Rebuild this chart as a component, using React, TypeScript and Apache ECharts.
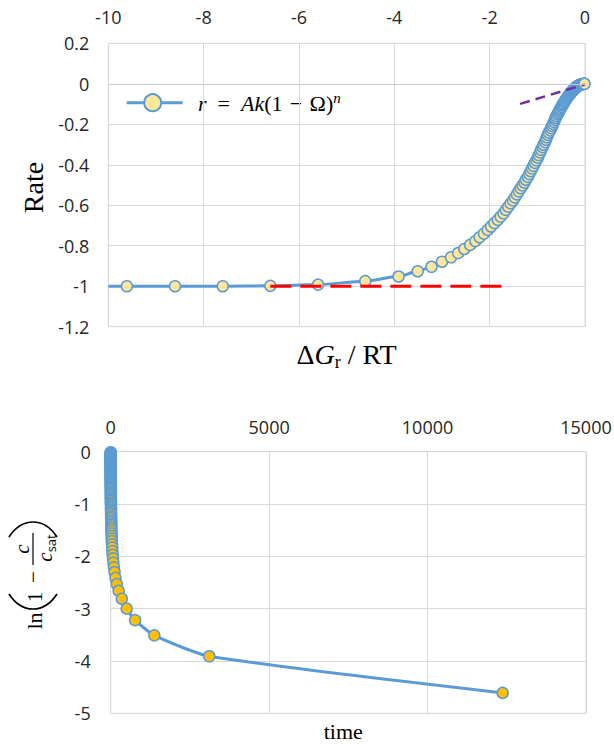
import React, { useEffect, useRef } from "react";
import * as echarts from "echarts";

// ---------- Top chart: Rate vs ΔG_r / RT ----------
const dgRT = [
  -10, -9.61, -8.6, -7.6, -6.6, -5.6,
  -4.61, -3.91, -3.51, -3.22, -3.0, -2.81, -2.66, -2.53, -2.41, -2.3,
  -2.21, -2.12, -2.04, -1.97, -1.9, -1.83, -1.77, -1.71, -1.66, -1.61,
  -1.56, -1.51, -1.47, -1.43, -1.39, -1.35, -1.31, -1.27, -1.24, -1.2,
  -1.17, -1.14, -1.11, -1.08, -1.05, -1.02, -0.99, -0.97, -0.94, -0.92,
  -0.89, -0.87, -0.84, -0.82, -0.8, -0.78, -0.76, -0.73, -0.71, -0.69,
  -0.67, -0.65, -0.63, -0.62, -0.6, -0.58, -0.56, -0.54, -0.53, -0.51,
  -0.49, -0.48, -0.46, -0.45, -0.43, -0.42, -0.4, -0.39, -0.37, -0.36,
  -0.34, -0.33, -0.31, -0.3, -0.29, -0.27, -0.26, -0.25, -0.24, -0.22,
  -0.21, -0.2, -0.19, -0.17, -0.16, -0.15, -0.14, -0.13, -0.12, -0.11,
  -0.09, -0.08, -0.07, -0.06, -0.05, -0.04, -0.03, -0.02, -0.01,
];
const rateValues = [
  -1, -1, -1, -1, -0.998, -0.992,
  -0.975, -0.952, -0.926, -0.904, -0.879, -0.857, -0.836, -0.816, -0.796, -0.777,
  -0.758, -0.74, -0.722, -0.705, -0.688, -0.672, -0.656, -0.64, -0.623, -0.607,
  -0.591, -0.576, -0.561, -0.546, -0.531, -0.516, -0.502, -0.488, -0.474, -0.46,
  -0.446, -0.432, -0.418, -0.405, -0.391, -0.378, -0.365, -0.352, -0.339, -0.326,
  -0.313, -0.301, -0.288, -0.276, -0.264, -0.252, -0.241, -0.23, -0.219, -0.208,
  -0.198, -0.188, -0.178, -0.169, -0.16, -0.151, -0.143, -0.135, -0.128, -0.121,
  -0.114, -0.107, -0.101, -0.095, -0.089, -0.084, -0.078, -0.073, -0.068, -0.063,
  -0.058, -0.054, -0.049, -0.045, -0.041, -0.038, -0.034, -0.031, -0.028, -0.025,
  -0.022, -0.019, -0.017, -0.015, -0.013, -0.011, -0.009, -0.008, -0.006, -0.005,
  -0.004, -0.003, -0.002, -0.002, -0.001, -0.001, 0, 0, 0,
];
// reference lines (dashed)
const redLineX = [-6.6, -1.7];
const redLineY = [-1, -1];
const purpleLineX = [-1.36, 0];
const purpleLineY = [-0.099, -0.003];

// ---------- Bottom chart: ln(1 - c/c_sat) vs time ----------
const timeValues = [
  0.03, 0.05, 0.08, 0.11, 0.13, 0.16, 0.19, 0.22, 0.26, 0.29,
  0.32, 0.36, 0.4, 0.44, 0.48, 0.52, 0.56, 0.6, 0.65, 0.7,
  0.75, 0.8, 0.85, 0.9, 0.96, 1.0, 1.1, 1.15, 1.2, 1.3,
  1.4, 1.4, 1.5, 1.6, 1.7, 1.8, 1.9, 2.0, 2.1, 2.2,
  2.3, 2.4, 2.6, 2.7, 2.9, 3.0, 3.2, 3.3, 3.5, 3.7,
  3.9, 4.1, 4.4, 4.6, 4.9, 5.2, 5.5, 5.8, 6.1, 6.5,
  6.9, 7.3, 7.8, 8.3, 8.9, 9.5, 10.1, 10.8, 11.6, 12.5,
  13.5, 14.5, 15.7, 17.1, 18.6, 20.2, 22.1, 24.3, 26.8, 29.7,
  33, 36.9, 41.6, 47.1, 53.7, 61.9, 72, 84.7, 101, 122,
  151, 192, 251, 350, 505, 770, 1376, 3110, 12370,
];
const lnValues = [
  -0.01, -0.02, -0.03, -0.04, -0.05, -0.06, -0.07, -0.08, -0.09, -0.11,
  -0.12, -0.13, -0.14, -0.15, -0.16, -0.17, -0.19, -0.2, -0.21, -0.22,
  -0.24, -0.25, -0.26, -0.27, -0.29, -0.3, -0.31, -0.33, -0.34, -0.36,
  -0.37, -0.39, -0.4, -0.42, -0.43, -0.45, -0.46, -0.48, -0.49, -0.51,
  -0.53, -0.54, -0.56, -0.58, -0.6, -0.62, -0.63, -0.65, -0.67, -0.69,
  -0.71, -0.73, -0.76, -0.78, -0.8, -0.82, -0.84, -0.87, -0.89, -0.92,
  -0.94, -0.97, -0.99, -1.02, -1.05, -1.08, -1.11, -1.14, -1.17, -1.2,
  -1.24, -1.27, -1.31, -1.35, -1.39, -1.43, -1.47, -1.51, -1.56, -1.61,
  -1.66, -1.71, -1.77, -1.83, -1.9, -1.97, -2.04, -2.12, -2.21, -2.3,
  -2.41, -2.53, -2.66, -2.81, -3.0, -3.22, -3.51, -3.91, -4.61,
];

// axis ranges
const topX = { min: -10, max: 0, interval: 2 };
const topY = { min: -1.2, max: 0.2, interval: 0.2 };
const botX = { min: 0, max: 15000, interval: 5000 };
const botY = { min: -5, max: 0, interval: 1 };

const BLUE = "#5B9BD5";
const GRID = "#D9D9D9";
const LABEL = "#262626";
const SERIF = "Liberation Serif";
const SANS = "Open Sans";

function labelStyle(margin: number) {
  return {
    color: LABEL,
    fontSize: 18,
    fontFamily: SANS,
    margin,
    showMinLabel: true,
    showMaxLabel: true,
    hideOverlap: false,
    formatter: (v: number) => String(Math.round(v * 1000) / 1000),
  };
}

function axis(extra: any, margin: number) {
  return {
    type: "value",
    axisLine: { show: false },
    axisTick: { show: false },
    splitLine: { show: true, lineStyle: { color: GRID, width: 1 } },
    axisLabel: labelStyle(margin),
    ...extra,
  };
}

export default function App() {
  const ref = useRef<HTMLDivElement>(null);

  useEffect(() => {
    if (!ref.current) return;
    const chart = echarts.init(ref.current, undefined, { renderer: "svg" });

    const topData: any[] = dgRT.map((x, i) =>
      i === 0 ? { value: [x, rateValues[i]], symbolSize: 0 } : [x, rateValues[i]]
    );
    const botData = timeValues.map((t, i) => [t, lnValues[i]]);

    const txt = (x: number, y: number, text: string, size: number, extra: any = {}) => ({
      type: "text",
      x,
      y,
      silent: true,
      style: {
        text,
        fontSize: size,
        fontFamily: SERIF,
        fill: "#000",
        align: "center",
        verticalAlign: "middle",
        textAlign: "center",
        textVerticalAlign: "middle",
        ...extra,
      },
    });
    const paren = (x0: number, xc: number) => ({
      type: "bezierCurve",
      silent: true,
      shape: { x1: x0, y1: -24, cpx1: xc, cpy1: -11, cpx2: xc, cpy2: 11, x2: x0, y2: 24 },
      style: { stroke: "#000", lineWidth: 1.7, fill: "none" },
    });

    const option: any = {
      animation: false,
      grid: [
        {
          left: 108.3, top: 43.3, width: 476.7, height: 283.4,
          show: true, borderColor: GRID, borderWidth: 1, outerBoundsMode: "none",
        },
        {
          left: 110.7, top: 451.7, width: 475.3, height: 261.6,
          show: true, borderColor: GRID, borderWidth: 1, outerBoundsMode: "none",
        },
      ],
      xAxis: [
        axis({ gridIndex: 0, position: "top", ...topX }, 17),
        axis({ gridIndex: 1, position: "top", ...botX }, 16),
      ],
      yAxis: [
        axis({ gridIndex: 0, ...topY }, 19),
        axis({ gridIndex: 1, ...botY }, 20),
      ],
      series: [
        {
          type: "line",
          xAxisIndex: 0,
          yAxisIndex: 0,
          data: topData,
          symbol: "circle",
          symbolSize: 11,
          showAllSymbol: true,
          smooth: 0.3,
          smoothMonotone: "x",
          lineStyle: { color: BLUE, width: 3 },
          itemStyle: { color: "#FFE699", borderColor: BLUE, borderWidth: 1.5 },
          emphasis: { disabled: true },
          markLine: {
            silent: true,
            symbol: "none",
            label: { show: false },
            lineStyle: { color: "#C8C8C8", width: 1.2, type: "solid" },
            data: [{ yAxis: 0 }],
          },
          z: 3,
        },
        {
          type: "line",
          xAxisIndex: 0,
          yAxisIndex: 0,
          data: redLineX.map((x, i) => [x, redLineY[i]]),
          symbol: "none",
          lineStyle: { color: "#FF0000", width: 3, type: [21, 9] },
          emphasis: { disabled: true },
          z: 4,
        },
        {
          type: "line",
          xAxisIndex: 0,
          yAxisIndex: 0,
          data: purpleLineX.map((x, i) => [x, purpleLineY[i]]),
          symbol: "none",
          lineStyle: { color: "#7030A0", width: 2.5, type: [10, 6] },
          emphasis: { disabled: true },
          z: 4,
        },
        {
          type: "line",
          xAxisIndex: 1,
          yAxisIndex: 1,
          data: botData,
          symbol: "circle",
          symbolSize: 11,
          showAllSymbol: true,
          smooth: 0.2,
          lineStyle: { color: BLUE, width: 3 },
          itemStyle: { color: "#FFC000", borderColor: BLUE, borderWidth: 1.5 },
          emphasis: { disabled: true },
          z: 3,
        },
      ],
      graphic: [
        // legend of top chart
        {
          type: "line",
          silent: true,
          shape: { x1: 126.7, y1: 102.7, x2: 182.7, y2: 102.7 },
          style: { stroke: BLUE, lineWidth: 3 },
        },
        {
          type: "circle",
          silent: true,
          shape: { cx: 152.7, cy: 102.7, r: 8.5 },
          style: { fill: "#FFE699", stroke: BLUE, lineWidth: 2 },
        },
        txt(198, 103.3, "{i|r}{u|\u2002=\u2002}{i|Ak}{u|(1\u2004\u2212\u2004\u03A9)}{sup|n}", 22, {
          align: "left",
          textAlign: "left",
          rich: {
            i: { fontSize: 22, fontFamily: SERIF, fontStyle: "italic", lineHeight: 26, verticalAlign: "middle", fill: "#000" },
            u: { fontSize: 22, fontFamily: SERIF, lineHeight: 26, verticalAlign: "middle", fill: "#000" },
            sup: { fontSize: 15, fontFamily: SERIF, fontStyle: "italic", lineHeight: 15, verticalAlign: "top", fill: "#000" },
          },
        }),
        // top chart axis titles
        { ...txt(33, 187.5, "Rate", 28), rotation: Math.PI / 2 },
        txt(346.5, 354, "{u|\u0394}{i|G}{sub|r}{u| / RT}", 28, {
          rich: {
            u: { fontSize: 28, fontFamily: SERIF, lineHeight: 34, verticalAlign: "middle", fill: "#000" },
            i: { fontSize: 28, fontFamily: SERIF, fontStyle: "italic", lineHeight: 34, verticalAlign: "middle", fill: "#000" },
            sub: { fontSize: 18, fontFamily: SERIF, lineHeight: 18, verticalAlign: "bottom", fill: "#000" },
          },
        }),
        // bottom chart axis titles
        txt(343.3, 731, "time", 22),
        {
          type: "group",
          x: 33,
          y: 633,
          rotation: Math.PI / 2,
          silent: true,
          children: [
            txt(12, 1, "ln", 22),
            paren(39, 19),
            txt(36, 2, "1", 21),
            txt(56, 0, "\u2212", 21),
            {
              type: "line",
              shape: { x1: 68, y1: 0, x2: 100, y2: 0 },
              style: { stroke: "#000", lineWidth: 1.2 },
            },
            txt(84, -11, "c", 21, { fontStyle: "italic" }),
            txt(85, 12, "{c|c}{s|sat}", 21, {
              rich: {
                c: { fontSize: 21, fontFamily: SERIF, fontStyle: "italic", lineHeight: 24, verticalAlign: "middle", fill: "#000" },
                s: { fontSize: 13, fontFamily: SANS, lineHeight: 13, verticalAlign: "bottom", fill: "#000" },
              },
            }),
            paren(96, 116),
          ],
        },
      ],
    };

    chart.setOption(option);
    return () => chart.dispose();
  }, []);

  return (
    <div
      ref={ref}
      style={{ position: "fixed", left: 0, top: 0, width: 614, height: 744, background: "#fff" }}
    />
  );
}
